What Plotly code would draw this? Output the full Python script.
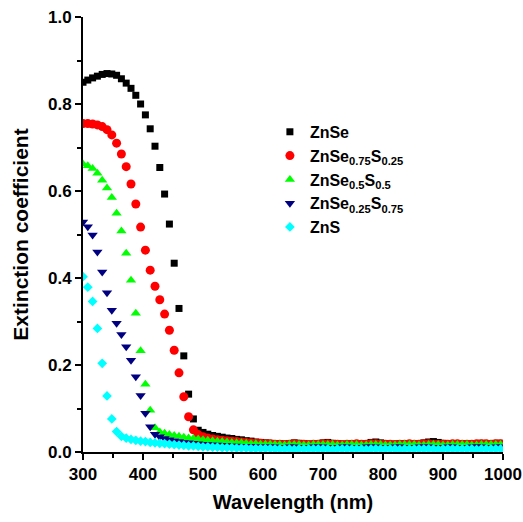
import plotly.graph_objects as go

# Wavelength grid (nm), 8 nm sampling
wavelength = list(range(300, 1000, 8))

k_znse = [
    0.850, 0.855, 0.860, 0.864, 0.868, 0.870, 0.869, 0.866, 0.858, 0.848,
    0.836, 0.820, 0.800, 0.775, 0.743, 0.703, 0.654, 0.593, 0.524, 0.434,
    0.330, 0.221, 0.133, 0.076, 0.050, 0.045, 0.041, 0.038, 0.036, 0.034,
    0.032, 0.031, 0.029, 0.028, 0.026, 0.025, 0.023, 0.022, 0.021, 0.020,
    0.019, 0.019, 0.018, 0.019, 0.021, 0.020, 0.019, 0.018, 0.018, 0.019,
    0.021, 0.022, 0.020, 0.019, 0.018, 0.018, 0.019, 0.019, 0.018, 0.019,
    0.022, 0.023, 0.021, 0.019, 0.018, 0.018, 0.019, 0.019, 0.018, 0.018,
    0.019, 0.021, 0.023, 0.024, 0.022, 0.020, 0.019, 0.018, 0.018, 0.019,
    0.019, 0.018, 0.019, 0.020, 0.019, 0.019, 0.020, 0.020,
]

k_se075 = [
    0.755, 0.755, 0.754, 0.752, 0.748, 0.741, 0.729, 0.710, 0.685, 0.656,
    0.616, 0.570, 0.517, 0.464, 0.418, 0.381, 0.350, 0.317, 0.280, 0.234,
    0.182, 0.127, 0.081, 0.051, 0.040, 0.035, 0.032, 0.030, 0.028, 0.027,
    0.026, 0.025, 0.024, 0.023, 0.022, 0.021, 0.020, 0.020, 0.019, 0.019,
    0.018, 0.018, 0.017, 0.018, 0.019, 0.018, 0.018, 0.017, 0.018, 0.018,
    0.019, 0.019, 0.018, 0.018, 0.017, 0.018, 0.018, 0.019, 0.018, 0.018,
    0.019, 0.019, 0.018, 0.018, 0.018, 0.017, 0.018, 0.018, 0.019, 0.018,
    0.018, 0.019, 0.019, 0.018, 0.018, 0.018, 0.018, 0.019, 0.019, 0.018,
    0.018, 0.018, 0.019, 0.019, 0.019, 0.018, 0.019, 0.019,
]

k_se050 = [
    0.662, 0.658, 0.652, 0.641, 0.625, 0.607, 0.585, 0.549, 0.508, 0.457,
    0.395, 0.319, 0.233, 0.156, 0.096, 0.056, 0.046, 0.043, 0.040, 0.038,
    0.036, 0.034, 0.032, 0.031, 0.030, 0.028, 0.027, 0.026, 0.025, 0.024,
    0.023, 0.022, 0.021, 0.021, 0.020, 0.019, 0.019, 0.018, 0.018, 0.018,
    0.017, 0.017, 0.016, 0.017, 0.017, 0.017, 0.016, 0.016, 0.017, 0.017,
    0.017, 0.017, 0.017, 0.016, 0.016, 0.017, 0.017, 0.017, 0.016, 0.016,
    0.017, 0.017, 0.017, 0.016, 0.016, 0.016, 0.017, 0.017, 0.017, 0.017,
    0.016, 0.016, 0.017, 0.017, 0.017, 0.016, 0.016, 0.017, 0.017, 0.017,
    0.017, 0.016, 0.016, 0.017, 0.017, 0.017, 0.017, 0.017,
]

k_se025 = [
    0.529, 0.518, 0.499, 0.460, 0.414, 0.366, 0.326, 0.296, 0.270, 0.242,
    0.211, 0.173, 0.130, 0.089, 0.058, 0.041, 0.035, 0.031, 0.028, 0.026,
    0.024, 0.022, 0.021, 0.020, 0.019, 0.018, 0.017, 0.016, 0.016, 0.015,
    0.015, 0.014, 0.014, 0.013, 0.013, 0.013, 0.012, 0.012, 0.012, 0.012,
    0.012, 0.011, 0.011, 0.012, 0.012, 0.011, 0.011, 0.011, 0.012, 0.012,
    0.012, 0.011, 0.011, 0.011, 0.012, 0.012, 0.011, 0.011, 0.011, 0.012,
    0.012, 0.012, 0.011, 0.011, 0.011, 0.012, 0.012, 0.011, 0.011, 0.011,
    0.012, 0.012, 0.012, 0.011, 0.011, 0.011, 0.012, 0.012, 0.011, 0.011,
    0.011, 0.012, 0.012, 0.012, 0.011, 0.011, 0.012, 0.012,
]

k_zns = [
    0.403, 0.379, 0.346, 0.284, 0.204, 0.129, 0.076, 0.047, 0.036, 0.032,
    0.029, 0.027, 0.025, 0.024, 0.022, 0.021, 0.020, 0.019, 0.018, 0.017,
    0.016, 0.015, 0.014, 0.014, 0.013, 0.012, 0.012, 0.011, 0.011, 0.010,
    0.010, 0.010, 0.009, 0.009, 0.009, 0.008, 0.008, 0.008, 0.008, 0.008,
    0.007, 0.007, 0.007, 0.007, 0.006, 0.007, 0.007, 0.007, 0.007, 0.007,
    0.007, 0.007, 0.006, 0.007, 0.007, 0.007, 0.007, 0.007, 0.007, 0.006,
    0.007, 0.007, 0.007, 0.007, 0.007, 0.007, 0.006, 0.007, 0.007, 0.007,
    0.007, 0.007, 0.007, 0.007, 0.006, 0.007, 0.007, 0.007, 0.007, 0.007,
    0.007, 0.007, 0.006, 0.007, 0.007, 0.007, 0.007, 0.007,
]

series_names = [
    "ZnSe",
    "ZnSe<sub>0.75</sub>S<sub>0.25</sub>",
    "ZnSe<sub>0.5</sub>S<sub>0.5</sub>",
    "ZnSe<sub>0.25</sub>S<sub>0.75</sub>",
    "ZnS",
]
series_values = [k_znse, k_se075, k_se050, k_se025, k_zns]
series_colors = ["#000000", "#ff0000", "#00ff00", "#000080", "#00ffff"]
series_symbols = ["square", "circle", "triangle-up", "triangle-down", "diamond"]
series_sizes = [7, 9, 9, 9, 7.5]

FONT = "Liberation Sans, Arial, sans-serif"

fig = go.Figure()
for name, vals, col, sym, sz in zip(series_names, series_values, series_colors,
                                    series_symbols, series_sizes):
    fig.add_trace(go.Scatter(
        x=wavelength, y=vals, mode="markers", name=name,
        marker=dict(color=col, symbol=sym, size=sz, line=dict(width=0)),
    ))

axis_common = dict(
    showline=True, linewidth=2, linecolor="black",
    ticks="outside", ticklen=6, tickwidth=2, tickcolor="black",
    showgrid=False, zeroline=False, mirror=False, automargin=False,
    tickfont=dict(family=FONT, size=17, color="black", weight="bold"),
)

fig.update_xaxes(
    range=[300, 1000], dtick=100, tick0=300,
    minor=dict(dtick=50, ticks="outside", ticklen=4, tickwidth=2, tickcolor="black"),
    title=dict(text="Wavelength (nm)", standoff=12,
               font=dict(family=FONT, size=20, color="black", weight="bold")),
    **axis_common,
)
fig.update_yaxes(
    range=[0, 1.0], dtick=0.2, tick0=0, tickformat=".1f",
    minor=dict(dtick=0.1, ticks="outside", ticklen=4, tickwidth=2, tickcolor="black"),
    title=dict(text="Extinction coefficient", standoff=14,
               font=dict(family=FONT, size=21, color="black", weight="bold")),
    **axis_common,
)

fig.update_layout(
    width=523, height=522,
    margin=dict(l=83, r=20, t=17, b=70),
    paper_bgcolor="white", plot_bgcolor="white",
    showlegend=True,
    legend=dict(
        x=0.445, y=0.775, xanchor="left", yanchor="top",
        bgcolor="rgba(0,0,0,0)", borderwidth=0,
        font=dict(family=FONT, size=16, color="black", weight="bold"),
        tracegroupgap=0, itemsizing="trace",
    ),
)

fig.write_html("out.html")
